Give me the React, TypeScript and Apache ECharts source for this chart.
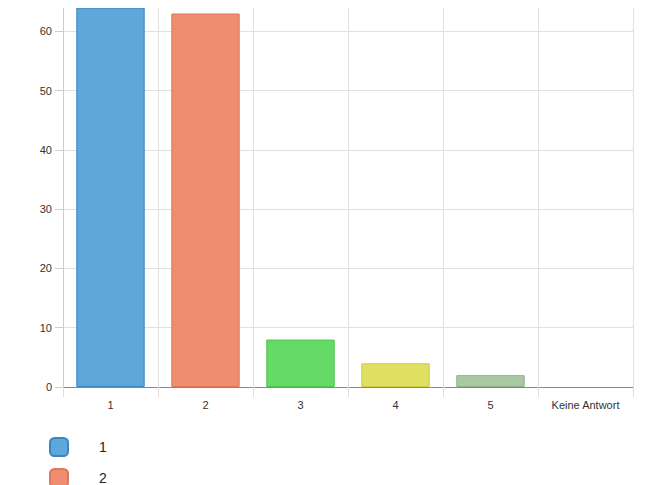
import React, { useEffect, useRef } from "react";
import * as echarts from "echarts";

const categories = ["1", "2", "3", "4", "5", "Keine Antwort"];
const values = [64, 63, 8, 4, 2, 0];
const legendItems = ["1", "2"];
const fillColors = ["#5fa6d9", "#ef8d70", "#66da66", "#e0e062", "#a9c9a3", "#c8c8c8"];
const borderColors = ["#3a85c6", "#e0775a", "#4cc54c", "#cccc3c", "#8fb088", "#aaaaaa"];

export default function App() {
  const ref = useRef<HTMLDivElement>(null);
  useEffect(() => {
    if (!ref.current) return;
    const chart = echarts.init(ref.current, null, { renderer: "svg" });
    const series = categories.map((name, i) => ({
      name,
      type: "bar",
      stack: "all",
      barWidth: "72%",
      data: categories.map((_, j) => (j === i ? values[i] : "-")),
      itemStyle: {
        color: fillColors[i],
        borderColor: borderColors[i],
        borderWidth: values[i] === 0 ? 0 : 1,
      },
    }));
    chart.setOption({
      animation: false,
      textStyle: { fontFamily: "Arial, Liberation Sans, sans-serif" },
      grid: { left: 55, top: 8, width: 570, height: 415 },
      legend: {
        orient: "vertical",
        left: 41,
        top: 473,
        padding: 0,
        itemWidth: 18,
        itemHeight: 18,
        itemGap: 11,
        icon: "roundRect",
        textStyle: { fontSize: 14, lineHeight: 18, color: "#222", padding: [0, 0, 0, 26] },
        data: legendItems,
      },
      xAxis: {
        type: "category",
        data: categories,
        axisLine: { lineStyle: { color: "#888" } },
        axisTick: { show: true, length: 10, lineStyle: { color: "#ddd" } },
        axisLabel: { fontSize: 11, color: "#333", margin: 12 },
        splitLine: { show: true, lineStyle: { color: "#e0e0e0" } },
      },
      yAxis: {
        type: "value",
        min: 0,
        max: 70,
        interval: 10,
        axisLine: { show: true, lineStyle: { color: "#ccc" } },
        axisTick: { show: true, length: 8, lineStyle: { color: "#ccc" } },
        axisLabel: { fontSize: 11, color: "#333", margin: 11, showMaxLabel: false },
        splitLine: { show: true, lineStyle: { color: "#e0e0e0" } },
      },
      series,
    });
    return () => chart.dispose();
  }, []);
  return <div ref={ref} style={{ width: 634, height: 530, marginTop: -44 }} />;
}
